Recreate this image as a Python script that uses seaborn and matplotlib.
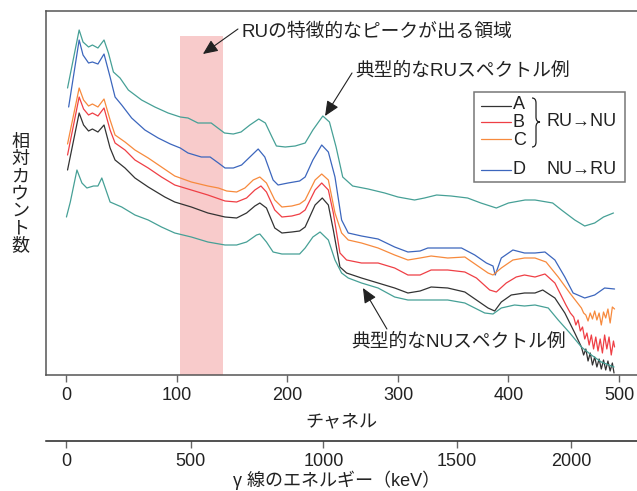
import numpy as np
import pandas as pd
import matplotlib.pyplot as plt
import seaborn as sns
from matplotlib.lines import Line2D
from matplotlib.patches import Rectangle, PathPatch
from matplotlib.path import Path

sns.set_style("white")
plt.rcParams['font.family'] = ['Liberation Sans', 'Noto Sans CJK JP', 'DejaVu Sans']

# --- spectra (channel, relative counts) ---
ru_ch = [1, 11.5, 15, 20, 23.5, 28.5, 34, 38, 42.5, 48.5, 56, 68, 80, 92, 103, 110, 119, 125, 131, 137,
         143, 151, 158, 166, 174, 180, 186, 190, 198, 207, 216, 223, 232, 238, 244, 250, 259, 273, 288, 300,
         315, 324, 335, 348, 363, 375, 389, 400, 415, 424, 440, 448, 460, 469, 478, 486, 495]
ru_cnt = [287, 345, 333, 328, 330, 327, 335, 322, 303, 297, 285, 275, 268, 262, 258, 257, 252, 252, 252, 247,
          242, 241, 243, 250, 256, 252, 238, 229, 228, 229, 232, 245, 259, 253, 228, 198, 189, 186, 182, 178,
          175, 177, 180, 179, 177, 172, 167, 172, 175, 175, 172, 165, 155, 149, 152, 158, 162]

d_ch = [2, 11.5, 15, 20, 23.5, 28.5, 34, 39.5, 44, 50, 59, 71, 83, 94, 103, 110, 122, 130, 137.5, 143.5,
        151, 158.5, 166, 173.5, 179.5, 187, 191.5, 200.5, 211, 216, 223, 231, 237, 243, 249, 255, 267, 282, 297, 309,
        320, 327, 339, 357.5, 369.5, 380, 386, 388, 393.5, 404, 414.5, 424, 433, 442, 451, 458.5, 469, 478, 487, 496]
d_cnt = [268, 335, 320, 312, 313, 311, 321, 298, 278, 270, 257, 245, 237, 231, 227, 222, 218, 218, 212, 207,
         207, 210, 218, 226, 218, 195, 190, 192, 194, 198, 215, 230, 223, 198, 155, 142, 139, 136, 128, 123,
         124, 127, 127, 127, 120, 112, 109, 100, 117, 125, 122, 122, 123, 115, 98, 82, 77, 80, 87, 86]

c_ch = [1, 11.5, 15.5, 20, 23.5, 28.5, 34, 39.5, 44, 53, 62, 74, 86, 98, 113, 128, 137.5, 145, 154, 161.5,
        169, 175, 181, 188.5, 195, 204, 211, 216, 225, 231, 237, 243, 249, 255, 267, 282, 297, 309, 320, 330,
        345, 360.5, 371, 381.5, 386, 393.5, 404, 414.5, 424, 434, 445, 455.5, 466, 468, 470, 472, 474, 476, 478, 480,
        482, 484, 486, 488, 490, 492, 494, 496]
c_cnt = [231, 287, 275, 269, 271, 268, 276, 255, 240, 233, 225, 217, 208, 199, 193, 189, 187, 184, 183, 187,
         195, 198, 192, 175, 168, 169, 171, 175, 195, 201, 195, 162, 142, 135, 132, 127, 120, 115, 117, 119,
         117, 118, 110, 102, 100, 107, 115, 117, 117, 113, 98, 82, 67, 62, 60, 54, 62, 56, 64, 55,
         62, 50, 63, 57, 66, 52, 68, 66]

b_ch = [1, 11.5, 15.5, 20, 23.5, 28.5, 34, 39.5, 44, 53, 62, 74, 86, 98, 113, 128, 143.5, 154, 163, 170.5,
        176, 181, 188.5, 195, 204, 211, 216, 225, 231, 237, 241.5, 247.5, 253.5, 267, 282, 297, 309, 320, 330, 345,
        360.5, 371, 383, 389, 398, 407, 414.5, 424, 433, 442, 452, 456, 459, 461, 463, 465, 467, 469, 471, 473,
        475, 477, 479, 481, 483, 485, 487, 489, 491, 493, 495, 496]
b_cnt = [220, 278, 266, 260, 262, 259, 267, 245, 232, 225, 215, 207, 198, 190, 185, 180, 174, 173, 177, 185,
         189, 183, 165, 158, 159, 161, 165, 185, 192, 185, 162, 122, 115, 112, 112, 107, 100, 100, 105, 105,
         103, 97, 85, 83, 92, 98, 100, 98, 101, 92, 70, 62, 58, 50, 55, 44, 48, 36, 42, 30,
         40, 26, 38, 24, 36, 22, 40, 26, 38, 20, 34, 28]

a_ch = [1, 11.5, 15.5, 20, 23.5, 28.5, 34, 39.5, 44, 53, 62, 74, 89, 98, 113, 128, 143.5, 154, 163, 170.5,
        175, 181, 188.5, 195, 204, 211, 216, 225, 231.5, 237, 241.5, 247.5, 253.5, 267, 282, 297, 309, 320, 330, 345,
        360.5, 371, 381.5, 387.5, 393.5, 402.5, 414.5, 424, 431, 442, 451, 460, 463, 466, 468, 470, 472, 474, 476, 478,
        480, 482, 484, 486, 488, 490, 492, 494, 495.5]
a_cnt = [205, 262, 250, 244, 246, 243, 250, 227, 215, 207, 197, 188, 178, 173, 168, 162, 158, 157, 162, 169,
         172, 167, 147, 142, 143, 144, 148, 170, 177, 170, 145, 108, 102, 97, 92, 87, 82, 84, 88, 87,
         83, 75, 67, 64, 73, 80, 82, 82, 85, 77, 62, 42, 35, 28, 20, 26, 14, 22, 10, 18,
         8, 16, 6, 15, 5, 14, 4, 12, 2]

nu_ch = [0, 3.5, 9.5, 14, 18.5, 24.5, 28.5, 32, 39.5, 50, 62, 74, 86, 98, 113, 128, 143.5, 154, 163, 172,
         175, 181, 187, 195, 211, 216, 223, 229.5, 237, 243, 249, 255, 267, 282, 297, 309, 320, 330, 345, 360.5,
         369.5, 378.5, 386, 393.5, 405.5, 414.5, 424, 436, 445, 455.5, 466, 475, 484, 495.5]
nu_cnt = [158, 173, 205, 192, 187, 189, 189, 197, 173, 168, 160, 155, 148, 142, 138, 133, 130, 130, 133, 140,
          141, 133, 123, 121, 121, 127, 138, 143, 135, 115, 102, 97, 92, 87, 78, 75, 75, 75, 75, 72,
          67, 62, 61, 67, 70, 69, 70, 67, 55, 42, 28, 20, 13, 8]

ru_region = [103, 142]      # channel range of the RU peak
ru_region_top = 339

ch_ticks = [0, 100, 200, 300, 400, 500]
energy_labels = [0, 500, 1000, 1500, 2000]
energy_ch = [0, 112.5, 232.5, 353, 456.5]   # channel where each energy tick sits

series = {
    'RU': (ru_ch, ru_cnt), 'D': (d_ch, d_cnt), 'C': (c_ch, c_cnt),
    'B': (b_ch, b_cnt), 'A': (a_ch, a_cnt), 'NU': (nu_ch, nu_cnt),
}
colors = {'RU': '#46a096', 'NU': '#46a096', 'D': '#3c66bd', 'C': '#f78a3d',
          'B': '#ef3f45', 'A': '#333333'}

df = pd.concat([pd.DataFrame({'channel': x, 'counts': y, 'series': k})
                for k, (x, y) in series.items()], ignore_index=True)

W, H = 637, 491
TXT = '#222222'
fig = plt.figure(figsize=(W / 100, H / 100), dpi=100)


def fx(x):
    return x / W


def fy(y):
    return 1 - y / H


ax = fig.add_axes([fx(46), fy(375), (637 - 46) / W, (375 - 11) / H])
ax.fill_between(ru_region, 0, ru_region_top, color='#f8cbcb', lw=0, zorder=0)
sns.lineplot(data=df, x='channel', y='counts', hue='series', palette=colors,
             estimator=None, sort=False, legend=False, lw=0.9, ax=ax, zorder=2)

ax.set_xlim(-18.5, 516.3)
ax.set_ylim(0, 364)
ax.set_xticks(ch_ticks)
ax.set_yticks([])
ax.set_xlabel('')
ax.set_ylabel('')
for s in ['left', 'bottom', 'top']:
    ax.spines[s].set_color('#555555')
    ax.spines[s].set_linewidth(1.1)
ax.spines['right'].set_visible(False)
ax.tick_params(axis='x', bottom=True, direction='out', length=5, width=1, color='#666666',
               labelsize=13, pad=4, labelcolor=TXT)

# energy axis
ax2 = fig.add_axes([fx(46), fy(441), (637 - 46) / W, 0.0001])
ax2.set_xlim(-18.5, 516.3)
ax2.set_xticks(energy_ch)
ax2.set_xticklabels([str(e) for e in energy_labels])
ax2.set_yticks([])
for s in ['left', 'right', 'top']:
    ax2.spines[s].set_visible(False)
ax2.spines['bottom'].set_color(TXT)
ax2.spines['bottom'].set_linewidth(1.1)
ax2.tick_params(axis='x', bottom=True, direction='out', length=5, width=1, color='#666666',
                labelsize=13, pad=4, labelcolor=TXT)
ax2.patch.set_visible(False)

fig.text(fx(341), fy(422), 'チャネル', ha='center', va='center', fontsize=13, color=TXT)
fig.text(fx(337), fy(480), 'γ 線のエネルギー（keV）', ha='center', va='center', fontsize=13, color=TXT)
fig.text(fx(20), fy(194), '\n'.join('相対カウント数'), ha='center', va='center',
         fontsize=13, linespacing=1.02, color=TXT)

# annotations
arrow = dict(arrowstyle='-|>,head_length=0.45,head_width=0.2', color=TXT,
             lw=0.8, mutation_scale=20, shrinkA=0, shrinkB=0)
ax.annotate('', xy=(123.5, 321), xytext=(155.2, 346), arrowprops=arrow)
ax.text(158, 343, 'RUの特徴的なピークが出る領域', ha='left', va='center', fontsize=13.5, color=TXT)
ax.annotate('', xy=(234, 259), xytext=(258.4, 302), arrowprops=arrow)
ax.text(261, 304, '典型的なRUスペクトル例', ha='left', va='center', fontsize=13.5, color=TXT)
ax.annotate('', xy=(268.3, 87), xytext=(290, 46), arrowprops=arrow)
ax.text(257.5, 33, '典型的なNUスペクトル例', ha='left', va='center', fontsize=13.5, color=TXT)

# hand-built legend
fig.add_artist(Rectangle((fx(474), fy(182)), (625 - 474) / W, (182 - 92) / H,
                         transform=fig.transFigure, fill=True, facecolor='white',
                         edgecolor='#777777', lw=1.1, zorder=5))
for name, yy in [('A', 106), ('B', 122), ('C', 139), ('D', 170)]:
    fig.add_artist(Line2D([fx(481), fx(511)], [fy(yy), fy(yy)], color=colors[name],
                          lw=0.9, transform=fig.transFigure, zorder=6))
fig.text(fx(513), fy(122.5), 'A\nB\nC', ha='left', va='center', fontsize=13,
         linespacing=1.1, color=TXT, zorder=6)
fig.text(fx(513), fy(170), 'D', ha='left', va='center', fontsize=13, color=TXT, zorder=6)
fig.text(fx(546), fy(122), 'RU→NU', ha='left', va='center', fontsize=13, color=TXT, zorder=6)
fig.text(fx(546), fy(170), 'NU→RU', ha='left', va='center', fontsize=13, color=TXT, zorder=6)

bx = [(532, 98), (536, 98), (536, 103), (536, 117), (536, 122), (540, 122),
      (536, 122), (536, 127), (536, 142), (536, 147), (532, 147)]
codes = [Path.MOVETO, Path.CURVE3, Path.CURVE3, Path.LINETO, Path.CURVE3, Path.CURVE3,
         Path.CURVE3, Path.CURVE3, Path.LINETO, Path.CURVE3, Path.CURVE3]
brace = Path([(fx(x), fy(y)) for x, y in bx], codes)
fig.add_artist(PathPatch(brace, transform=fig.transFigure, fill=False,
                         edgecolor=TXT, lw=0.9, zorder=6))

fig.savefig('out.png', dpi=100)
